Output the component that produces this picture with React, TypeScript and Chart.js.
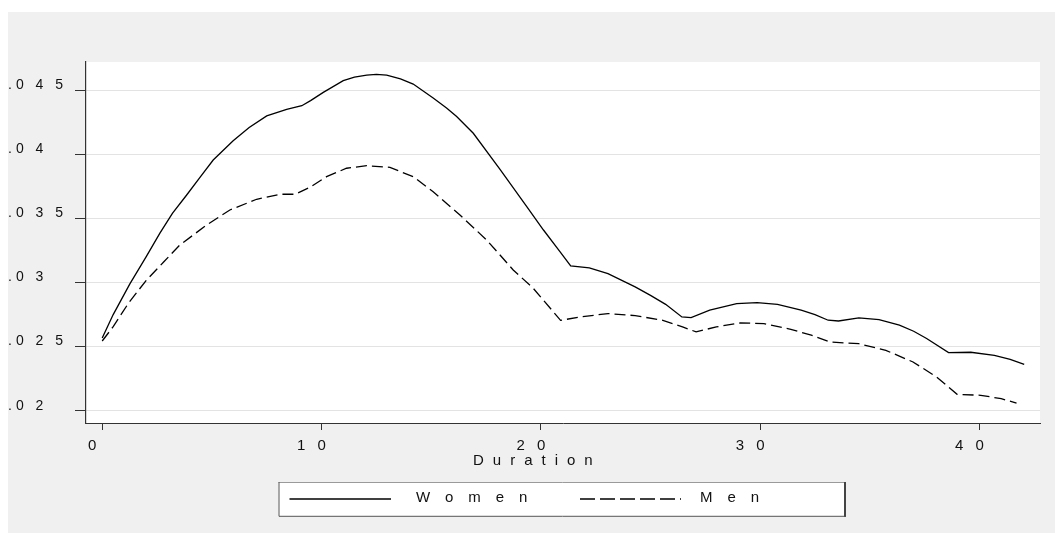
import React, { useEffect, useRef } from "react";
import { Chart, registerables } from "chart.js";

Chart.register(...registerables);

// ---- data ----
const womenDuration = [0, 0.5, 1.26, 2.0, 2.63, 3.2, 3.85, 4.5, 5.06, 5.97, 6.7, 7.5, 8.41, 9.1, 9.5, 10.08, 10.99, 11.5, 12.06, 12.5, 12.97, 13.6, 14.18, 15.09, 15.7, 16.16, 16.92, 18.13, 19.35, 20.12, 20.87, 21.36, 22.21, 23.06, 24.3, 25.0, 25.69, 26.43, 26.85, 27.7, 28.93, 29.86, 30.79, 31.87, 32.5, 33.1, 33.57, 34.5, 35.42, 36.35, 37.0, 37.59, 38.59, 39.6, 40.68, 41.4, 42.04];
const womenRate = [0.02568, 0.0275, 0.0299, 0.0320, 0.03385, 0.0354, 0.03683, 0.0383, 0.03956, 0.04107, 0.0421, 0.0430, 0.04352, 0.0438, 0.0442, 0.04484, 0.04575, 0.04603, 0.04619, 0.04625, 0.04619, 0.0459, 0.04549, 0.0444, 0.04362, 0.04295, 0.04165, 0.03885, 0.03595, 0.0341, 0.03241, 0.0313, 0.03115, 0.0307, 0.02966, 0.0290, 0.0283, 0.02732, 0.02727, 0.02784, 0.02836, 0.02844, 0.0283, 0.02784, 0.0275, 0.02706, 0.027, 0.02724, 0.0271, 0.02667, 0.0262, 0.02563, 0.02453, 0.02456, 0.02432, 0.024, 0.02362];

const menDuration = [0, 0.5, 1.2, 2.02, 2.8, 3.54, 4.76, 5.82, 7.04, 8.1, 8.79, 9.47, 10.23, 11.14, 12.06, 13.12, 14.18, 15.09, 16.31, 17.53, 18.74, 19.65, 20.9, 21.82, 23.06, 24.3, 25.53, 26.46, 27.08, 28.0, 29.09, 30.17, 31.4, 32.33, 33.18, 34.5, 35.73, 36.97, 38.05, 38.98, 40.06, 40.99, 41.69];
const menRate = [0.02544, 0.02656, 0.0284, 0.0302, 0.0316, 0.03293, 0.03449, 0.03566, 0.0365, 0.03689, 0.03689, 0.03743, 0.03826, 0.03892, 0.03912, 0.03899, 0.03826, 0.03709, 0.03527, 0.03332, 0.03098, 0.02956, 0.02705, 0.02732, 0.02758, 0.02742, 0.02706, 0.02654, 0.02615, 0.02654, 0.02685, 0.0268, 0.02635, 0.02589, 0.02536, 0.02523, 0.02471, 0.0238, 0.02263, 0.02128, 0.0212, 0.02094, 0.0206];

const xTickValues = [0, 10, 20, 30, 40];
const xTickLabels = ["0", "1 0", "2 0", "3 0", "4 0"];
const yTickValues = [0.02, 0.025, 0.03, 0.035, 0.04, 0.045];
const yTickLabels = [".0 2", ".0 2 5", ".0 3", ".0 3 5", ".0 4", ".0 4 5"];

const xTitle = "Duration";
const seriesNames = ["Women", "Men"];

const FONT = '"Liberation Sans", Arial, sans-serif';

const framePlugin = {
  id: "frame",
  beforeDraw(chart: any) {
    const { ctx, chartArea: a, width, height } = chart;
    ctx.save();
    ctx.fillStyle = "#f0f0f0";
    ctx.fillRect(0, 0, width, height);
    ctx.fillStyle = "#ffffff";
    ctx.fillRect(a.left, a.top, a.right - a.left, a.bottom - a.top);
    ctx.restore();
    ctx.letterSpacing = "4px";
  },
  afterDraw(chart: any) {
    const { ctx } = chart;
    ctx.save();
    // axis title
    ctx.letterSpacing = "9px";
    ctx.font = `15px ${FONT}`;
    ctx.fillStyle = "#111";
    ctx.textBaseline = "middle";
    ctx.textAlign = "left";
    ctx.fillText(xTitle, 465, 449);

    // legend box
    const L = 270.5, T = 470, R = 838, B = 504.3;
    ctx.fillStyle = "#ffffff";
    ctx.fillRect(L, T, R - L, B - T);
    ctx.lineWidth = 1;
    ctx.strokeStyle = "#9a9a9a";
    ctx.beginPath();
    ctx.moveTo(L, T + 0.5);
    ctx.lineTo(R, T + 0.5);
    ctx.stroke();
    ctx.strokeStyle = "#555";
    ctx.beginPath();
    ctx.moveTo(L + 0.5, T);
    ctx.lineTo(L + 0.5, B);
    ctx.lineTo(R, B);
    ctx.stroke();
    ctx.lineWidth = 2;
    ctx.strokeStyle = "#444";
    ctx.beginPath();
    ctx.moveTo(R - 1, T);
    ctx.lineTo(R - 1, B + 0.5);
    ctx.stroke();

    // legend samples
    ctx.strokeStyle = "#000";
    ctx.lineWidth = 1.3;
    ctx.beginPath();
    ctx.moveTo(281.5, 487);
    ctx.lineTo(383, 487);
    ctx.stroke();
    ctx.setLineDash([15, 5]);
    ctx.beginPath();
    ctx.moveTo(572, 487);
    ctx.lineTo(673, 487);
    ctx.stroke();
    ctx.setLineDash([]);

    ctx.letterSpacing = "15px";
    ctx.fillStyle = "#111";
    ctx.fillText(seriesNames[0], 408, 485.5);
    ctx.fillText(seriesNames[1], 692, 485.5);
    ctx.restore();
  },
};

export default function App() {
  const ref = useRef<HTMLCanvasElement | null>(null);

  useEffect(() => {
    if (!ref.current) return;
    const chart = new Chart(ref.current, {
      type: "line",
      data: {
        datasets: [
          {
            label: seriesNames[0],
            data: womenDuration.map((x, i) => ({ x, y: womenRate[i] })),
            borderColor: "#000",
            borderWidth: 1.3,
            pointRadius: 0,
            tension: 0,
            fill: false,
          },
          {
            label: seriesNames[1],
            data: menDuration.map((x, i) => ({ x, y: menRate[i] })),
            borderColor: "#000",
            borderWidth: 1.3,
            borderDash: [11, 5],
            pointRadius: 0,
            tension: 0,
            fill: false,
          },
        ],
      },
      options: {
        animation: false,
        responsive: false,
        devicePixelRatio: 1,
        layout: { padding: { left: 0, right: 15, top: 50, bottom: 0 } },
        plugins: {
          legend: { display: false },
          tooltip: { enabled: false },
        },
        scales: {
          x: {
            type: "linear",
            min: -0.74,
            max: 42.76,
            afterBuildTicks: (scale: any) => {
              scale.ticks = xTickValues.map((v) => ({ value: v }));
            },
            afterFit: (scale: any) => {
              scale.height = 110;
            },
            ticks: {
              autoSkip: false,
              maxRotation: 0,
              padding: 7,
              labelOffset: -8,
              color: "#111",
              font: { family: FONT, size: 15 },
              callback: (value: any) => {
                const i = xTickValues.findIndex((v) => Math.abs(v - value) < 1e-9);
                return i >= 0 ? xTickLabels[i] : "";
              },
            },
            grid: {
              drawOnChartArea: false,
              drawTicks: true,
              tickLength: 7,
              tickColor: "#333",
              color: "#333",
            },
            border: { display: true, color: "#333", width: 1 },
          },
          y: {
            type: "linear",
            min: 0.01904,
            max: 0.04721,
            afterBuildTicks: (scale: any) => {
              scale.ticks = yTickValues.map((v) => ({ value: v }));
            },
            afterFit: (scale: any) => {
              scale.width = 78;
            },
            ticks: {
              autoSkip: false,
              crossAlign: "far",
              padding: 6,
              labelOffset: -5,
              color: "#111",
              font: { family: FONT, size: 14 },
              callback: (value: any) => {
                const i = yTickValues.findIndex((v) => Math.abs(v - value) < 1e-9);
                return i >= 0 ? yTickLabels[i] : "";
              },
            },
            grid: {
              color: "#e3e3e3",
              lineWidth: 1,
              drawTicks: true,
              tickLength: 11,
              tickColor: "#333",
            },
            border: { display: true, color: "#333", width: 1.2 },
          },
        },
      },
      plugins: [framePlugin],
    });
    return () => chart.destroy();
  }, []);

  return (
    <div
      style={{
        position: "absolute",
        left: 8,
        top: 12,
        width: 1047,
        height: 521,
        background: "#f0f0f0",
      }}
    >
      <canvas ref={ref} width={1047} height={521} style={{ display: "block" }} />
    </div>
  );
}
